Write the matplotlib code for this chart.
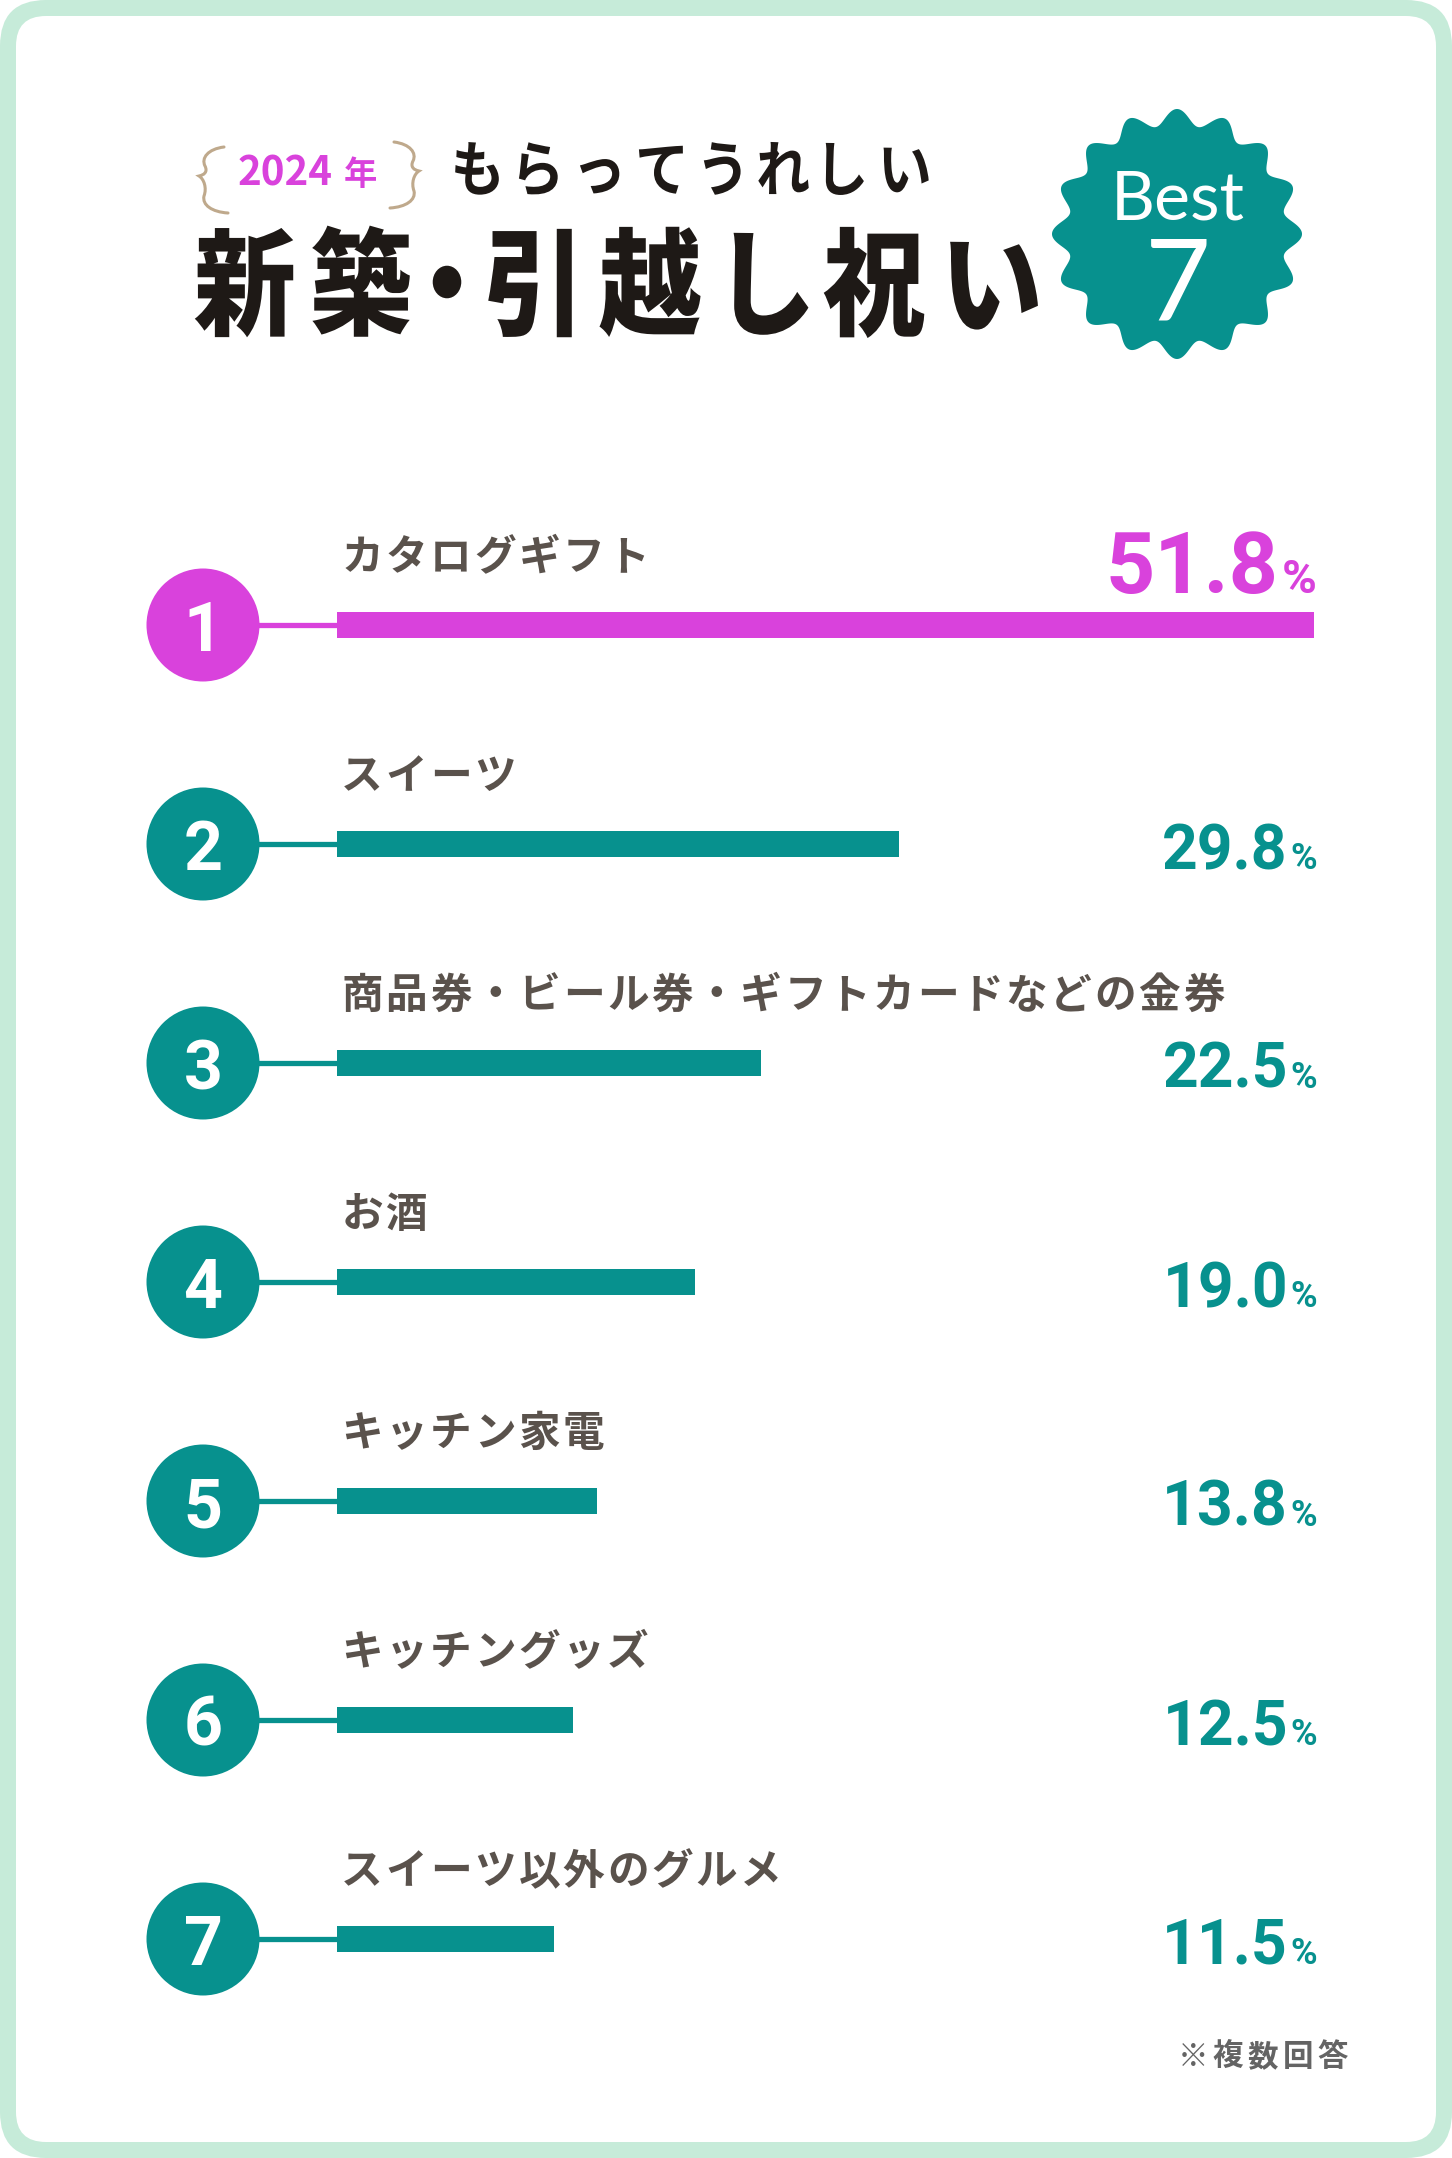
import numpy as np
import matplotlib
matplotlib.use("Agg")
import matplotlib.pyplot as plt
from matplotlib.patches import FancyBboxPatch, Circle, Polygon, PathPatch
from matplotlib.path import Path
from matplotlib.textpath import TextPath
from matplotlib.font_manager import FontProperties
from matplotlib.transforms import Affine2D

W, H = 1452, 2158

# data
labels = ["カタログギフト", "スイーツ", "商品券・ビール券・ギフトカードなどの金券",
          "お酒", "キッチン家電", "キッチングッズ", "スイーツ以外のグルメ"]
values = [51.8, 29.8, 22.5, 19.0, 13.8, 12.5, 11.5]
year = "2024"
title_small = "もらってうれしい"
title_big = "新築・引越し祝い"
note = "※複数回答"

TEAL = "#07918e"
MAGENTA = "#d942dc"
MINT = "#c6ebd9"
INK = "#1e1916"
LABEL = "#5a524c"
TAN = "#bfa98c"
JP = ["Noto Sans CJK JP", "DejaVu Sans"]
NUM = ["Roboto", "DejaVu Sans"]
LATO = ["Lato", "DejaVu Sans"]

fig = plt.figure(figsize=(W / 100, H / 100), dpi=100, facecolor="white")
ax = fig.add_axes([0, 0, 1, 1])
ax.set_xlim(0, W)
ax.set_ylim(H, 0)
ax.axis("off")

# rounded mint frame
ax.add_patch(FancyBboxPatch((0, 0), W, H, boxstyle="round,pad=0,rounding_size=46",
                            fc=MINT, ec="none"))
ax.add_patch(FancyBboxPatch((16, 16), W - 32, H - 32, boxstyle="round,pad=0,rounding_size=30",
                            fc="white", ec="none"))


def draw_chars(s, xs, cy, em, sy, color, weight):
    # glyph by glyph so the title can be spaced and stretched a bit taller
    prop = FontProperties(family="Noto Sans CJK JP", weight=weight)
    sc = em / 100
    for ch, x in zip(s, xs):
        tp = TextPath((0, 0), ch, size=100, prop=prop)
        ext = tp.get_extents()
        tr = (Affine2D().translate(-(ext.x0 + ext.x1) / 2, -38)
              .scale(sc, -sc * sy).translate(x, cy) + ax.transData)
        ax.add_patch(PathPatch(tp, fc=color, ec="none", transform=tr))


def spaced_text(s, x0, y, pitch, **kw):
    # full-width characters, fixed pitch -> letter spacing like the original
    for k, ch in enumerate(s):
        ax.text(x0 + k * pitch, y, ch, ha="center", **kw)


# title
draw_chars(title_big, [244, 361, 447, 530, 650, 771, 874, 994], 282, 102, 1.14, INK, "heavy")
draw_chars(title_small, [477 + k * 61.3 for k in range(len(title_small))], 168, 54, 1.12,
           INK, "bold")
ax.text(238, 186, year, ha="left", va="baseline", fontsize=29, family=JP,
        weight="bold", color=MAGENTA)
ax.text(360, 185, "年", ha="center", va="baseline", fontsize=24, family=JP,
        weight="bold", color=MAGENTA)

# braces around the year
brace = [(224, 147), (208, 149), (201, 158), (205, 166),
         (208, 172), (204, 175), (199, 176),
         (204, 179), (207, 188), (204, 196),
         (202, 205), (212, 212), (228, 213)]
codes = [Path.MOVETO] + [Path.CURVE4] * 12
ax.add_patch(PathPatch(Path(brace, codes), fc="none", ec=TAN, lw=2.2, capstyle="round"))
brace_r = [(618 - x, y - 5) for x, y in brace]
ax.add_patch(PathPatch(Path(brace_r, codes), fc="none", ec=TAN, lw=2.2, capstyle="round"))

# Best 7 badge
bx, by = 1177, 234
th = np.linspace(0, 2 * np.pi, 1441)
rr = 117 + 8 * np.cos(16 * (th - np.pi / 2))
ax.add_patch(Polygon(np.column_stack([bx + rr * np.cos(th), by - rr * np.sin(th)]),
                     closed=True, fc=TEAL, ec="none"))
ax.text(bx + 1, 220, "Best", ha="center", va="baseline", fontsize=49, family=LATO,
        color="white")
ax.text(bx + 1, 320, "7", ha="center", va="baseline", fontsize=82, family=LATO,
        weight="normal", color="white")

# rows
row_y0, row_dy = 625, 219
bar_x0, bar_x1 = 337, 1314
n = len(values)
colors = [MAGENTA] + [TEAL] * (n - 1)

top = row_y0 - row_dy / 2
bottom = row_y0 + (n - 0.5) * row_dy
bax = fig.add_axes([bar_x0 / W, 1 - bottom / H, (bar_x1 - bar_x0) / W, (bottom - top) / H])
bax.set_xlim(0, max(values))
bax.set_ylim(n - 0.5, -0.5)
bax.axis("off")
bax.barh(np.arange(n), values, height=26 / row_dy, color=colors)

cx, cr = 203, 56.5
for i, (lab, v) in enumerate(zip(labels, values)):
    cy = row_y0 + i * row_dy
    c = colors[i]
    ax.plot([cx + cr - 2, bar_x0 + 1], [cy, cy], color=c, lw=3.8, solid_capstyle="butt")
    ax.add_patch(Circle((cx, cy), cr, fc=c, ec="none"))
    ax.text(cx, cy + 26, str(i + 1), ha="center", va="baseline", fontsize=49,
            family=NUM, weight="bold", color="white")
    spaced_text(lab, 362, cy - 67, 44.3, va="center", fontsize=30, family=JP,
                weight="bold", color=LABEL)
    if i == 0:
        num_size, pct_size, base, num_right = 62, 34, cy - 32, 1279
    else:
        num_size, pct_size, base, num_right = 45, 26, cy + 25, 1288
    ax.text(num_right, base, f"{v:.1f}", ha="right", va="baseline", fontsize=num_size,
            family=NUM, weight="bold", color=c)
    ax.text(1317, base, "%", ha="right", va="baseline", fontsize=pct_size,
            family=NUM, weight="bold", color=c)

spaced_text(note, 1193, 2057, 35, va="center", fontsize=22, family=JP,
            weight="bold", color="#646464")

fig.savefig("out.png", dpi=100, facecolor="white")
